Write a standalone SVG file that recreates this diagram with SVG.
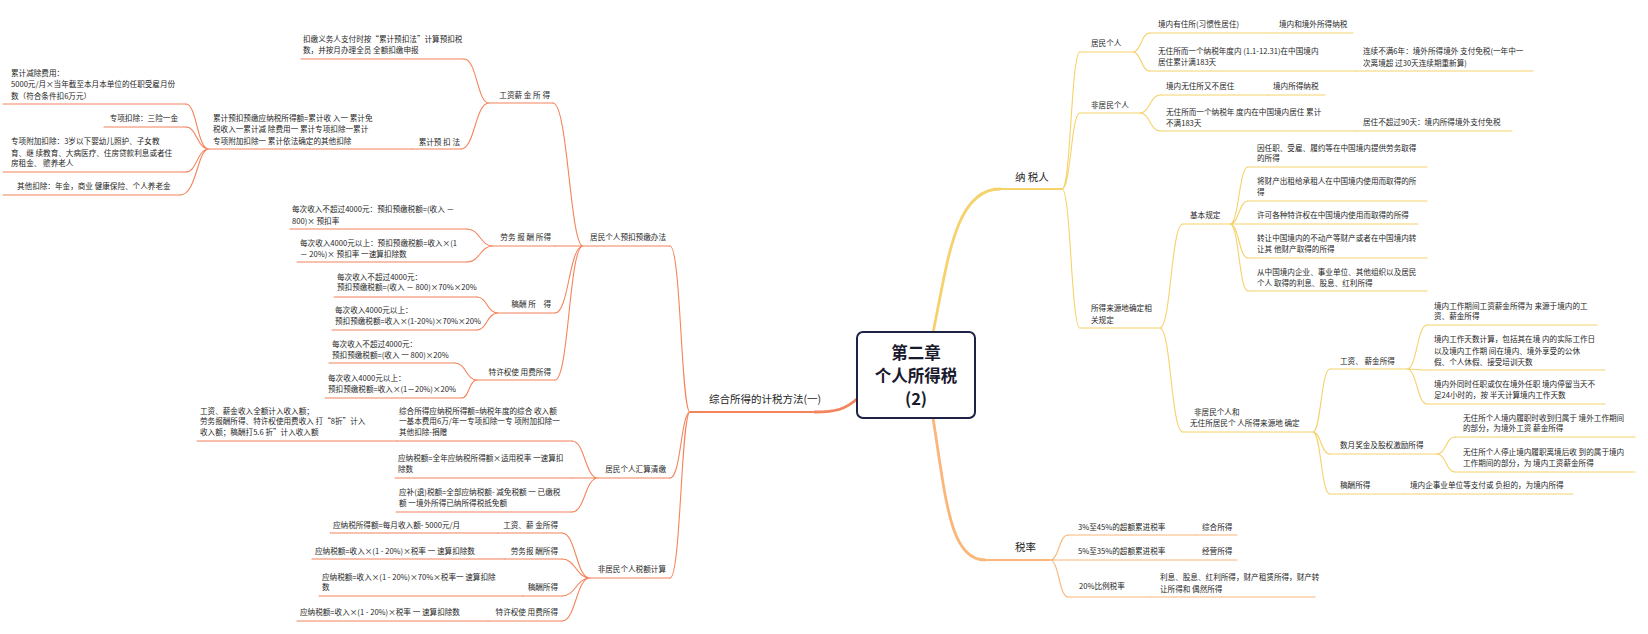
<svg xmlns="http://www.w3.org/2000/svg" width="1648" height="634" viewBox="0 0 1648 634">
<style>
text{font-family:"Noto Sans CJK SC","Noto Sans",sans-serif;font-size:7.6px;fill:#262626}
.l1{font-size:10.5px}
.e{text-anchor:end}
.root{font-size:16.5px;font-weight:bold;fill:#1a1a2e;text-anchor:middle}
.o,.y,.a{fill:none;stroke-linecap:round}
.o{stroke:#f4845c;stroke-width:1.1}
.y{stroke:#f5d26c;stroke-width:1.1}
.a{stroke:#fbb67a;stroke-width:1.1}
.k{stroke-width:2.8}
.m{stroke-width:1.8}
</style>
<rect width="1648" height="634" fill="#fff"/>
<g id="connectors">
<path class="o k" d="M858 398C845 410 835 412 815 412"/>
<path class="o" d="M690 412C681 412 681 246 670 246M690 412C681 412 681 478 670 478M690 412C681 412 681 578 670 578"/>
<path class="o" d="M583 246C570 246 568 103 553 103M583 246H555M583 246C569 246 569 313 555 313M583 246C569 246 569 380 555 380"/>
<path class="o" d="M489 103C477 103 477 59 464 59M489 103C475 103 475 149 461 149"/>
<path class="o" d="M209 149C197 149 197 104 186 104M209 149C197 149 197 127 186 127M209 149C197 149 197 172 186 172M209 149C197 149 197 195 180 195"/>
<path class="o" d="M493 246C480 246 480 229 467 229M493 246C480 246 480 262 467 262"/>
<path class="o" d="M498 313C487 313 487 297 477 297M498 313C487 313 487 330 477 330"/>
<path class="o" d="M477 380C466 380 466 363 455 363M477 380C469 380 469 398 462 398"/>
<path class="o" d="M598 478C585 478 585 441 572 441M598 478H572M598 478C585 478 585 512 572 512"/>
<path class="o" d="M590 578C576 578 576 533 562 533M590 578C576 578 576 559 562 559M590 578C576 578 576 596 562 596M590 578C576 578 576 621 562 621"/>
<path class="y k" d="M933 333C948 260 955 189 1000 189"/>
<path class="a k" d="M933 418C946 500 950 560 985 560"/>
<path class="y" d="M1062 189C1071 189 1071 52 1080 52M1062 189C1071 189 1071 113 1080 113M1062 189C1071 189 1071 328 1080 328"/>
<path class="y" d="M1133 52C1141 52 1141 33 1150 33M1133 52C1141 52 1141 71 1150 71"/>
<path class="y" d="M1140 113C1150 113 1150 95 1160 95M1140 113C1150 113 1150 131 1160 131"/>
<path class="y" d="M1160 328C1171 328 1171 224 1183 224M1160 328C1171 328 1171 432 1183 432"/>
<path class="y" d="M1230 224C1239 224 1239 167 1248 167M1230 224C1239 224 1239 201 1248 201M1230 224H1248M1230 224C1239 224 1239 258 1248 258M1230 224C1239 224 1239 291 1248 291"/>
<path class="y" d="M1313 432C1321 432 1321 369 1330 369M1313 432C1321 432 1321 454 1330 454M1313 432C1321 432 1321 494 1330 494"/>
<path class="y" d="M1407 369C1417 369 1417 325 1427 325M1407 369C1417 369 1417 370 1427 370M1407 369C1417 369 1417 404 1427 404"/>
<path class="y" d="M1437 454C1446 454 1446 437 1455 437M1437 454C1446 454 1446 472 1455 472"/>
<path class="a" d="M1050 560C1059 560 1059 535 1068 535M1050 560H1068M1050 560C1059 560 1059 597 1068 597"/>
</g>
<g id="n-root">
<rect x="857" y="332" width="118" height="86" rx="6" fill="#fff" stroke="#1e2245" stroke-width="2"/>
<text class="root" x="916" y="359">第二章</text>
<text class="root" x="916" y="382">个人所得税</text>
<text class="root" x="916" y="405">(2)</text>
</g>
<g id="n-zonghe"><text class="l1" x="709" y="403">综合所得的计税方法(一)</text><path class="o m" d="M690 412H815"/></g>
<g id="n-yukou"><text class="e" x="666" y="240">居民个人预扣预缴办法</text><path class="o" d="M583 246H670"/></g>
<g id="n-gz"><text class="e" x="550" y="98">工资薪 金 所 得</text><path class="o" d="M489 103H553"/></g>
<g id="n-koujiao"><text x="303" y="42">扣缴义务人支付时按“累计预扣法”计算预扣税</text><text x="303" y="53">数，并按月办理全员 全额扣缴申报</text><path class="o" d="M301 59H464"/></g>
<g id="n-leiji"><text class="e" x="460" y="145">累计预 扣 法</text><path class="o" d="M412 149H461"/></g>
<g id="n-leiji-f"><text x="213" y="121">累计预扣预缴应纳税所得额=累计收 入一 累计免</text><text x="213" y="132">税收入一累计减 除费用一 累计专项扣除一累计</text><text x="213" y="144">专项附加扣除一 累计依法确定的其他扣除</text><path class="o" d="M209 149H412"/></g>
<g id="n-jianchu"><text x="11" y="76">累计减除费用：</text><text x="11" y="87">5000元/月×当年截至本月本单位的任职受雇月份</text><text x="11" y="99">数（符合条件扣6万元）</text><path class="o" d="M3 104H186"/></g>
<g id="n-zhuanxiang"><text class="e" x="178" y="121">专项扣除：三险一金</text><path class="o" d="M104 127H186"/></g>
<g id="n-fujia"><text x="11" y="144">专项附加扣除：3岁以下婴幼儿照护、子女教</text><text x="11" y="156">育、继 续教育、大病医疗、住房贷款利息或者住</text><text x="11" y="166">房租金、 赡养老人</text><path class="o" d="M3 172H186"/></g>
<g id="n-qita"><text x="17" y="189">其他扣除：年金，商业 健康保险、个人养老金</text><path class="o" d="M3 195H180"/></g>
<g id="n-laowu"><text class="e" x="551" y="240">劳务 报 酬 所得</text><path class="o" d="M493 246H555"/></g>
<g id="n-lw1"><text x="292" y="212">每次收入不超过4000元：预扣预缴税额=(收入 －</text><text x="292" y="224">800)× 预扣率</text><path class="o" d="M290 229H467"/></g>
<g id="n-lw2"><text x="300" y="246">每次收入4000元以上：预扣预缴税额=收入×(1</text><text x="300" y="257">－ 20%)× 预扣率 一速算扣除数</text><path class="o" d="M297 262H467"/></g>
<g id="n-gaochou"><text class="e" x="551" y="307">稿酬 所　得</text><path class="o" d="M498 313H555"/></g>
<g id="n-gc1"><text x="337" y="280">每次收入不超过4000元：</text><text x="337" y="290">预扣预缴税额=(收入 － 800)×70%×20%</text><path class="o" d="M334 297H477"/></g>
<g id="n-gc2"><text x="335" y="313">每次收入4000元以上：</text><text x="335" y="324">预扣预缴税额=收入×(1-20%)×70%×20%</text><path class="o" d="M332 330H477"/></g>
<g id="n-texu"><text class="e" x="551" y="375">特许权使 用费所得</text><path class="o" d="M477 380H555"/></g>
<g id="n-tx1"><text x="332" y="347">每次收入不超过4000元：</text><text x="332" y="358">预扣预缴税额=(收入 一 800)×20%</text><path class="o" d="M329 363H455"/></g>
<g id="n-tx2"><text x="328" y="381">每次收入4000元以上：</text><text x="328" y="392">预扣预缴税额=收入×(1－20%)×20%</text><path class="o" d="M325 398H462"/></g>
<g id="n-huisuan"><text class="e" x="666" y="472">居民个人汇算清缴</text><path class="o" d="M598 478H670"/></g>
<g id="n-hs1"><text x="399" y="414">综合所得应纳税所得额=纳税年度的综合 收入额</text><text x="399" y="424">一基本费用6万/年一专项扣除一专 项附加扣除一</text><text x="399" y="435">其他扣除-捐赠</text><path class="o" d="M397 441H572"/></g>
<g id="n-hs1a"><text x="200" y="414">工资、薪金收入全额计入收入额；</text><text x="200" y="424">劳务报酬所得、特许权使用费收入 打“8折”计入</text><text x="200" y="435">收入额；稿酬打5.6 折”计入收入额</text><path class="o" d="M197 441H397"/></g>
<g id="n-hs2"><text x="398" y="461">应纳税额=全年应纳税所得额×适用税率 一速算扣</text><text x="398" y="472">除数</text><path class="o" d="M395 478H572"/></g>
<g id="n-hs3"><text x="399" y="495">应补(退)税额=全部应纳税额- 减免税额 一 已缴税</text><text x="399" y="506">额 一境外所得已纳所得税抵免额</text><path class="o" d="M396 512H572"/></g>
<g id="n-feijumin"><text class="e" x="666" y="572">非居民个人税额计算</text><path class="o" d="M590 578H670"/></g>
<g id="n-fj1"><text class="e" x="558" y="528">工资、薪 金所得</text><path class="o" d="M498 533H562"/></g>
<g id="n-fj1a"><text x="333" y="528">应纳税所得额=每月收入额- 5000元/月</text><path class="o" d="M330 533H498"/></g>
<g id="n-fj2"><text class="e" x="558" y="554">劳务报 酬所得</text><path class="o" d="M505 559H562"/></g>
<g id="n-fj2a"><text x="315" y="554">应纳税额=收入×(1 - 20%)×税率 一 速算扣除数</text><path class="o" d="M312 559H505"/></g>
<g id="n-fj3"><text class="e" x="558" y="590">稿酬所得</text><path class="o" d="M523 596H562"/></g>
<g id="n-fj3a"><text x="322" y="580">应纳税额=收入×(1 - 20%)×70%×税率一 速算扣除</text><text x="322" y="590">数</text><path class="o" d="M319 596H523"/></g>
<g id="n-fj4"><text class="e" x="558" y="615">特许权使 用费所得</text><path class="o" d="M488 621H562"/></g>
<g id="n-fj4a"><text x="300" y="615">应纳税额=收入×(1 - 20%)×税率 一 速算扣除数</text><path class="o" d="M297 621H488"/></g>
<g id="n-nashui"><text class="l1" x="1015" y="181">纳 税人</text><path class="y m" d="M1000 189H1062"/></g>
<g id="n-jumin"><text x="1091" y="46">居民个人</text><path class="y" d="M1080 52H1133"/></g>
<g id="n-jm1"><text x="1158" y="27">境内有住所(习惯性居住)</text><path class="y" d="M1150 33H1272"/></g>
<g id="n-jm1a"><text x="1279" y="27">境内和境外所得纳税</text><path class="y" d="M1272 33H1353"/></g>
<g id="n-jm2"><text x="1158" y="54">无住所而一个纳税年度内 (1.1-12.31)在中国境内</text><text x="1158" y="65">居住累计满183天</text><path class="y" d="M1150 71H1355"/></g>
<g id="n-jm2a"><text x="1363" y="54">连续不满6年：境外所得境外 支付免税(一年中一</text><text x="1363" y="66">次离境超 过30天连续期重新算)</text><path class="y" d="M1355 71H1533"/></g>
<g id="n-feijm"><text x="1091" y="108">非居民个人</text><path class="y" d="M1080 113H1140"/></g>
<g id="n-fjm1"><text x="1166" y="89">境内无住所又不居住</text><path class="y" d="M1160 95H1268"/></g>
<g id="n-fjm1a"><text x="1273" y="89">境内所得纳税</text><path class="y" d="M1268 95H1325"/></g>
<g id="n-fjm2"><text x="1166" y="115">无住所而一个纳税年 度内在中国境内居住 累计</text><text x="1166" y="126">不满183天</text><path class="y" d="M1160 131H1355"/></g>
<g id="n-fjm2a"><text x="1363" y="125">居住不超过90天：境内所得境外支付免税</text><path class="y" d="M1355 131H1512"/></g>
<g id="n-laiyuan"><text x="1091" y="311">所得来源地确定相</text><text x="1091" y="323">关规定</text><path class="y" d="M1080 328H1160"/></g>
<g id="n-jiben"><text x="1190" y="218">基本规定</text><path class="y" d="M1183 224H1230"/></g>
<g id="n-jb1"><text x="1257" y="151">因任职、受雇、履约等在中国境内提供劳务取得</text><text x="1257" y="161">的所得</text><path class="y" d="M1248 167H1427"/></g>
<g id="n-jb2"><text x="1257" y="184">将财产出租给承租人在中国境内使用而取得的所</text><text x="1257" y="195">得</text><path class="y" d="M1248 201H1427"/></g>
<g id="n-jb3"><text x="1257" y="218">许可各种特许权在中国境内使用而取得的所得</text><path class="y" d="M1248 224H1418"/></g>
<g id="n-jb4"><text x="1257" y="241">转让中国境内的不动产等财产或者在中国境内转</text><text x="1257" y="252">让其 他财产取得的所得</text><path class="y" d="M1248 258H1427"/></g>
<g id="n-jb5"><text x="1257" y="275">从中国境内企业、事业单位、其他组织以及居民</text><text x="1257" y="286">个人 取得的利息、股息、红利所得</text><path class="y" d="M1248 291H1427"/></g>
<g id="n-fjly"><text x="1194" y="415">非居民个人和</text><text x="1190" y="426">无住所居民个 人所得来源地 确定</text><path class="y" d="M1183 432H1313"/></g>
<g id="n-lygz"><text x="1340" y="364">工资、 薪金所得</text><path class="y" d="M1330 369H1407"/></g>
<g id="n-lygz1"><text x="1434" y="309">境内工作期间工资薪金所得为 来源于境内的工</text><text x="1434" y="319">资、薪金所得</text><path class="y" d="M1427 325H1597"/></g>
<g id="n-lygz2"><text x="1434" y="342">境内工作天数计算，包括其在境 内的实际工作日</text><text x="1434" y="354">以及境内工作期 间在境内、境外享受的公休</text><text x="1434" y="365">假、个人休假、接受培训天数</text><path class="y" d="M1427 370H1605"/></g>
<g id="n-lygz3"><text x="1434" y="387">境内外同时任职或仅在境外任职 境内停留当天不</text><text x="1434" y="398">足24小时的，按 半天计算境内工作天数</text><path class="y" d="M1427 404H1605"/></g>
<g id="n-lyjj"><text x="1340" y="448">数月奖金及股权激励所得</text><path class="y" d="M1330 454H1437"/></g>
<g id="n-lyjj1"><text x="1463" y="421">无住所个人境内履职时收到归属于 境外工作期间</text><text x="1463" y="431">的部分，为境外工资 薪金所得</text><path class="y" d="M1455 437H1635"/></g>
<g id="n-lyjj2"><text x="1463" y="455">无住所个人停止境内履职离境后收 到的属于境内</text><text x="1463" y="466">工作期间的部分，为 境内工资薪金所得</text><path class="y" d="M1455 472H1635"/></g>
<g id="n-lygc"><text x="1340" y="488">稿酬所得</text><path class="y" d="M1330 494H1405"/></g>
<g id="n-lygca"><text x="1410" y="488">境内企事业单位等支付或 负担的，为境内所得</text><path class="y" d="M1405 494H1573"/></g>
<g id="n-shuilv"><text class="l1" x="1015" y="551">税率</text><path class="a m" d="M985 560H1050"/></g>
<g id="n-sl1"><text x="1078" y="530">3%至45%的超额累进税率</text><path class="a" d="M1068 535H1195"/></g>
<g id="n-sl1a"><text x="1202" y="530">综合所得</text><path class="a" d="M1195 535H1237"/></g>
<g id="n-sl2"><text x="1078" y="554">5%至35%的超额累进税率</text><path class="a" d="M1068 560H1195"/></g>
<g id="n-sl2a"><text x="1202" y="554">经营所得</text><path class="a" d="M1195 560H1237"/></g>
<g id="n-sl3"><text x="1079" y="589">20%比例税率</text><path class="a" d="M1068 597H1150"/></g>
<g id="n-sl3a"><text x="1160" y="580">利息、股息、红利所得，财产租赁所得，财产转</text><text x="1160" y="592">让所得和 偶然所得</text><path class="a" d="M1150 597H1315"/></g>
</svg>
